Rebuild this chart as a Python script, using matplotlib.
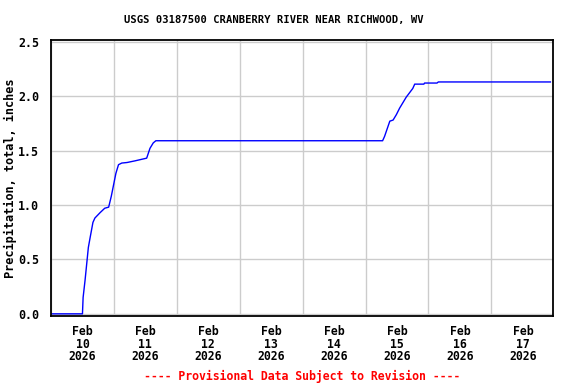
import matplotlib
matplotlib.use("Agg")
import matplotlib.pyplot as plt
import matplotlib.dates as mdates
import pandas as pd

# precipitation readings (cumulative, inches)
times = [
    "2026-02-10 00:00", "2026-02-10 12:00", "2026-02-10 12:15", "2026-02-10 13:00",
    "2026-02-10 13:30", "2026-02-10 14:15", "2026-02-10 15:00", "2026-02-10 16:00",
    "2026-02-10 16:45", "2026-02-10 18:45", "2026-02-10 20:30", "2026-02-10 22:00",
    "2026-02-10 23:00", "2026-02-11 00:00", "2026-02-11 00:45", "2026-02-11 01:45",
    "2026-02-11 03:00", "2026-02-11 05:00", "2026-02-11 08:00", "2026-02-11 12:30",
    "2026-02-11 13:45", "2026-02-11 15:00", "2026-02-11 16:00", "2026-02-15 06:30",
    "2026-02-15 07:15", "2026-02-15 09:15", "2026-02-15 10:30", "2026-02-15 11:45",
    "2026-02-15 13:00", "2026-02-15 14:15", "2026-02-15 15:30", "2026-02-15 16:45",
    "2026-02-15 18:00", "2026-02-15 18:45", "2026-02-15 22:15", "2026-02-15 22:30",
    "2026-02-16 03:15", "2026-02-16 03:45", "2026-02-17 22:30",
]
precip = [
    0.0, 0.0, 0.15, 0.31,
    0.43, 0.61, 0.71, 0.84,
    0.88, 0.93, 0.97, 0.98,
    1.08, 1.20, 1.29, 1.37,
    1.385, 1.39, 1.405, 1.43,
    1.52, 1.57, 1.59, 1.59,
    1.63, 1.77, 1.78, 1.83,
    1.89, 1.94, 1.99, 2.03,
    2.07, 2.11, 2.11, 2.12,
    2.12, 2.13, 2.13,
]
yticks = [0.0, 0.5, 1.0, 1.5, 2.0, 2.5]

t = pd.to_datetime(times)

plt.rcParams['font.family'] = ['DejaVu Sans Mono']
plt.rcParams['font.weight'] = 'bold'

fig = plt.figure(figsize=(5.76, 3.84), dpi=100)
ax = fig.add_axes([51 / 576, 1 - 316 / 384, (553 - 51) / 576, (316 - 39.5) / 384])

ax.plot(t, precip, color='#0000ff', linewidth=1.0)

ax.set_xlim(pd.Timestamp("2026-02-10 00:00"), pd.Timestamp("2026-02-17 23:30"))
ax.set_ylim(-0.02, 2.52)
ax.set_yticks(yticks)
ax.set_yticklabels([f"{v:.1f}" for v in yticks])

# gridlines at midnight, labels at noon
ax.xaxis.set_major_locator(mdates.DayLocator())
ax.xaxis.set_major_formatter(plt.NullFormatter())
ax.xaxis.set_minor_locator(mdates.HourLocator(byhour=12))
ax.xaxis.set_minor_formatter(mdates.DateFormatter("%b\n%d\n%Y"))
ax.tick_params(axis='x', which='both', length=0, pad=6.5, labelsize=8.3)
ax.tick_params(axis='y', length=0, pad=8.5, labelsize=8.4)
for lab in ax.get_xticklabels(minor=True):
    lab.set_linespacing(0.95)

ax.grid(True, which='major', color='#cccccc', linewidth=1.0)
ax.set_axisbelow(True)
for s in ax.spines.values():
    s.set_linewidth(1.3)
    s.set_color('black')

ax.set_ylabel("Precipitation, total, inches", fontsize=8.6, fontweight='bold')
ax.yaxis.set_label_coords((17 - 51) / 502, 0.497)
fig.text(0.5 * (125 + 422) / 576, 1 - 20 / 384,
         "USGS 03187500 CRANBERRY RIVER NEAR RICHWOOD, WV",
         ha='center', va='center', fontsize=7.6, fontweight='bold')
fig.text(302 / 576, 1 - 376 / 384, "---- Provisional Data Subject to Revision ----",
         ha='center', va='center', fontsize=8.3, color='red', fontweight='bold')

fig.savefig("out.png", dpi=100)
